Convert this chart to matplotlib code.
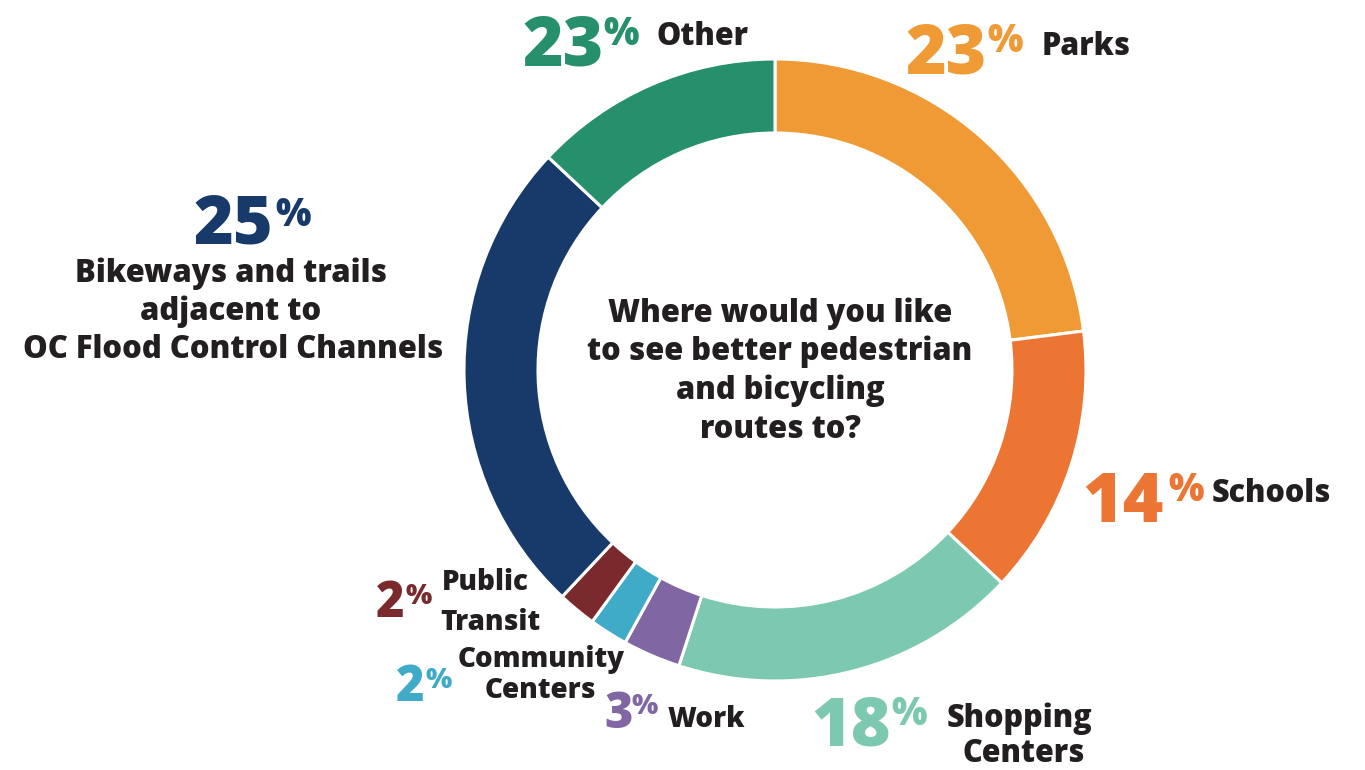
import matplotlib
matplotlib.use("Agg")
import matplotlib.pyplot as plt

# ---- data ----
categories = ["Parks", "Schools", "Shopping Centers", "Work", "Community Centers",
              "Public Transit", "Bikeways and trails adjacent to OC Flood Control Channels", "Other"]
values = [23, 14, 18, 3, 2, 2, 25, 13]          # wedge sizes as drawn
label_pcts = ["23", "14", "18", "3", "2", "2", "25", "23"]   # printed numbers
colors = ["#F09A35", "#EC7533", "#7DC8B0", "#8066A3", "#3FABC7", "#7A2A2C", "#183A6A", "#268F6B"]
question = "Where would you like\nto see better pedestrian\nand bicycling\nroutes to?"

W, H = 1365, 770
plt.rcParams['font.family'] = ['Open Sans', 'DejaVu Sans']
fig = plt.figure(figsize=(W / 100, H / 100), dpi=100)
ax = fig.add_axes([0, 0, 1, 1])

ax.pie(values, radius=311, center=(775, H - 370), startangle=90, counterclock=False,
       colors=colors, wedgeprops=dict(width=74, edgecolor="white", linewidth=2.2))
ax.set_xlim(0, W)
ax.set_ylim(0, H)
ax.set_aspect("equal")
ax.axis("off")

DARK = "#231F20"
WEIGHT = 800


def Y(y):
    return H - y


def txt(x, y, s, size, color=DARK, ha="left", va="baseline", **kw):
    ax.text(x, Y(y), s, fontsize=size, color=color, ha=ha, va=va,
            fontweight=WEIGHT, **kw)


def num(i, x, base, big, pct_size, pct_dx, pct_top):
    txt(x, base, label_pcts[i], big, color=colors[i])
    txt(x + pct_dx, pct_top, "%", pct_size, color=colors[i], va="top")


# Parks
num(0, 905, 74, 50, 27, 82, 22)
txt(1042, 55, "Parks", 22)
# Schools
num(1, 1082, 522, 50, 27, 86, 471)
txt(1212, 502, "Schools", 22)
# Shopping
num(2, 811, 745, 49, 27, 80, 695)
txt(947, 727, "Shopping", 22)
txt(963, 762, "Centers", 22)
# Work
num(3, 604, 728, 35, 20, 27, 692)
txt(668, 727, "Work", 20)
# Community
num(4, 396, 701, 35, 20, 29, 666)
txt(458, 667, "Community", 20)
txt(485, 698, "Centers", 20)
# Public transit
num(5, 376, 617, 35, 20, 29, 582)
txt(442, 590, "Public", 20)
txt(440, 630, "Transit", 20)
# Bikeways
num(6, 194, 243, 49, 27, 81, 196)
txt(231, 282, "Bikeways and trails", 22.3, ha="center")
txt(231, 320, "adjacent to", 22.3, ha="center")
txt(233, 358, "OC Flood Control Channels", 22.3, ha="center")
# Other
num(7, 522, 65, 50, 27, 81, 15)
txt(657, 45, "Other", 22)

# center question
for k, line in enumerate(question.split("\n")):
    txt(780, 322 + 38.5 * k, line, 22.2, ha="center")

fig.savefig("out.png", dpi=100, facecolor="white")
